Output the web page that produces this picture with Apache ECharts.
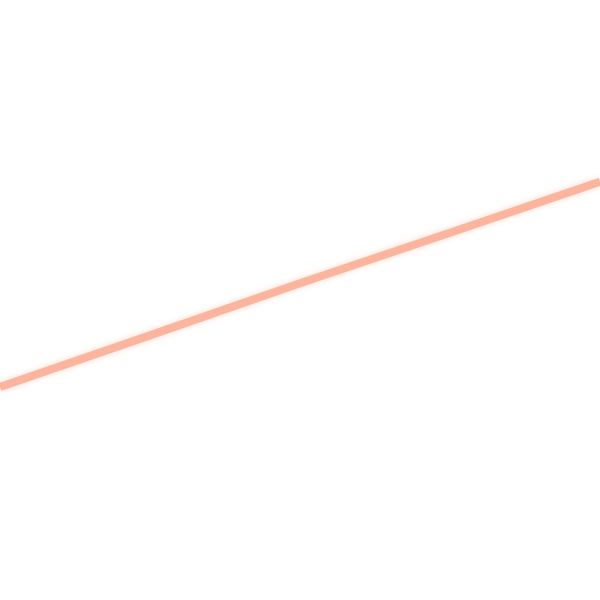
<!DOCTYPE html>
<html>
<head>
<meta charset="utf-8">
<script src="https://cdn.jsdelivr.net/npm/echarts@6/dist/echarts.min.js"></script>
<style>
  html, body { margin: 0; padding: 0; background: #fff; }
  #chart { width: 600px; height: 600px; }
</style>
</head>
<body>
<div id="chart"></div>
<script>
// x positions (0..100 across the view) and the line's height (0..100 up the view)
const xs = [0, 25, 50, 75, 100];
const heights = [35.5, 44.1, 52.8, 61.2, 69.7];

const chart = echarts.init(document.getElementById('chart'));

const option = {
  animation: false,
  grid: { left: 0, right: 0, top: 0, bottom: 0 },
  xAxis: { type: 'value', min: 0, max: 100, show: false },
  yAxis: { type: 'value', min: 0, max: 100, show: false },
  series: [{
    type: 'line',
    data: xs.map((x, i) => [x, heights[i]]),
    symbol: 'none',
    smooth: false,
    lineStyle: {
      color: '#fbb49d',
      width: 8,
      shadowColor: '#fdd9ca',
      shadowBlur: 6
    }
  }]
};

chart.setOption(option);
</script>
</body>
</html>
